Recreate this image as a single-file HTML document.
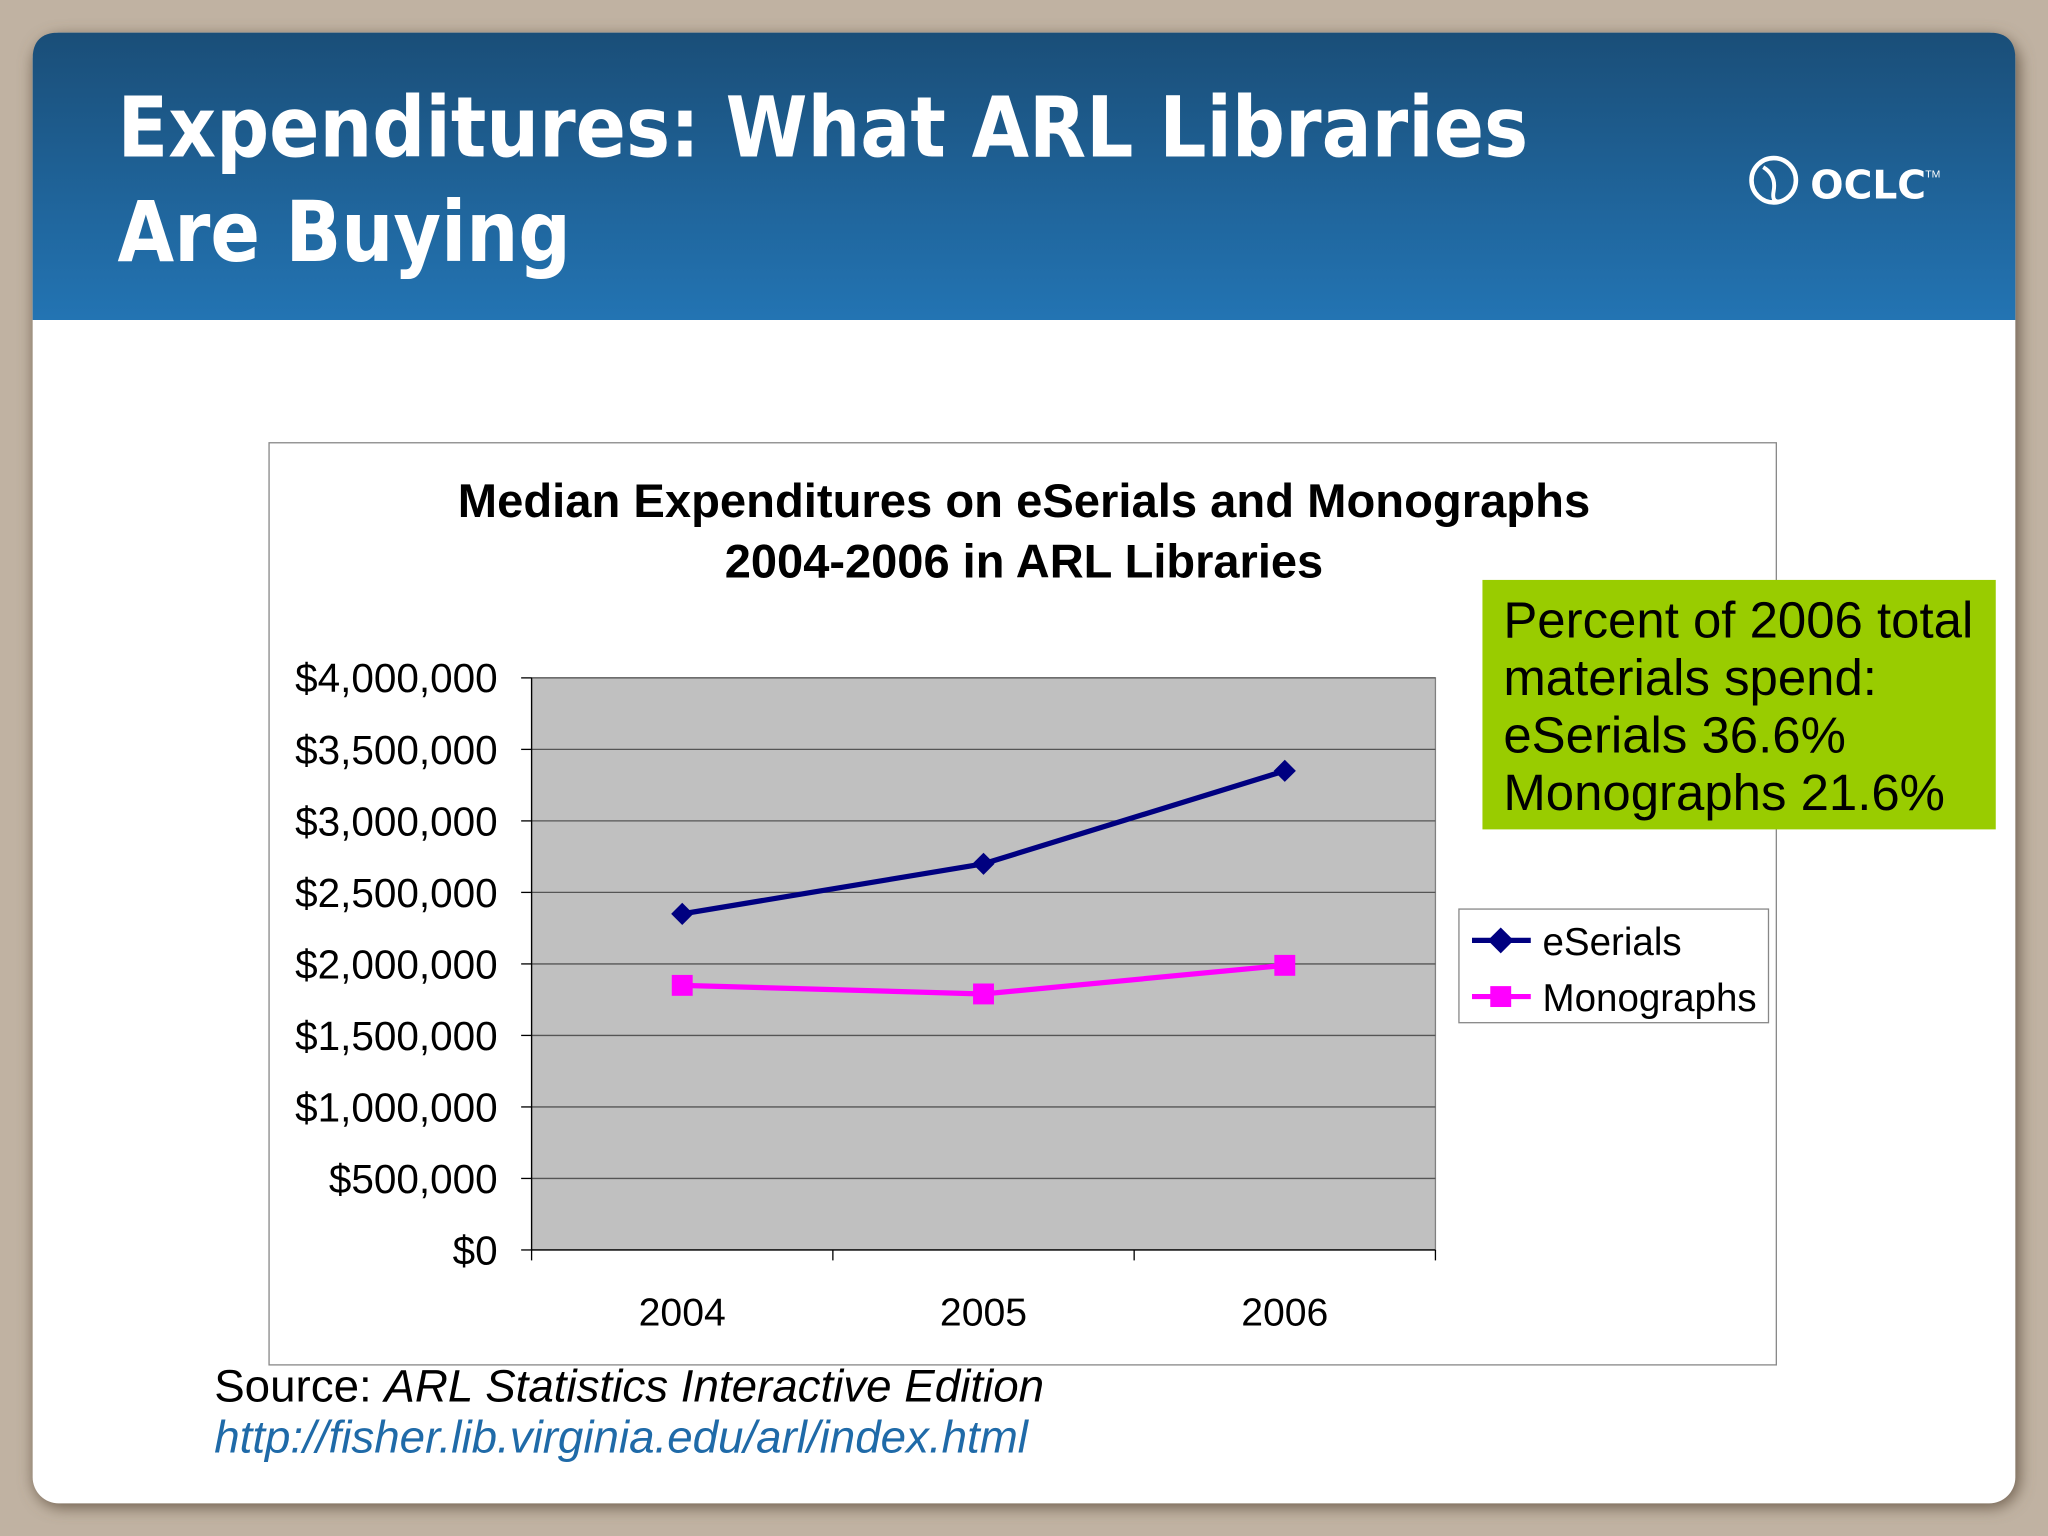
<!DOCTYPE html>
<html><head><meta charset="utf-8"><style>
html,body{margin:0;padding:0;background:#bfb09f;}
svg{display:block}
text{font-family:"Liberation Sans",sans-serif}
</style></head><body>
<svg width="2048" height="1536" viewBox="0 0 1568 1176" xmlns="http://www.w3.org/2000/svg">
<defs>
<linearGradient id="hdr" x1="0" y1="0" x2="0" y2="1"><stop offset="0" stop-color="#1a4e78"/><stop offset="1" stop-color="#2374b3"/></linearGradient>
<filter id="sh" x="-5%" y="-5%" width="110%" height="110%"><feGaussianBlur stdDeviation="6"/></filter>
</defs>
<rect width="1568" height="1176" fill="#c0b2a2"/>
<rect x="26" y="28" width="1520" height="1126" rx="22" fill="#6e5e4e" filter="url(#sh)"/>
<rect x="25" y="25" width="1518" height="1126" rx="20" fill="#ffffff"/>
<path d="M25 245 V45 Q25 25 45 25 H1523 Q1543 25 1543 45 V245 Z" fill="url(#hdr)"/>
<text x="90" y="120" font-weight="bold" font-size="64" fill="#fff" textLength="1080" lengthAdjust="spacingAndGlyphs" style="font-family:'DejaVu Sans',sans-serif">Expenditures: What ARL Libraries</text>
<text x="90" y="200" font-weight="bold" font-size="64" fill="#fff" textLength="347" lengthAdjust="spacingAndGlyphs" style="font-family:'DejaVu Sans',sans-serif">Are Buying</text>
<g>
<circle cx="1358" cy="138" r="17" fill="none" stroke="#fff" stroke-width="3.5"/>
<path d="M1350 128 q10 6 8 18 q-2 10 6 8" fill="none" stroke="#fff" stroke-width="3"/>
<text x="1386" y="152" font-size="30" font-weight="bold" fill="#fff" style="font-family:'DejaVu Sans',sans-serif">OCLC</text>
<text x="1474" y="136" font-size="8" fill="#fff">TM</text>
</g>
<rect x="206" y="339" width="1154" height="706" fill="#fff" stroke="#888" stroke-width="1"/>
<text x="784" y="396" text-anchor="middle" font-weight="bold" font-size="36" textLength="867" lengthAdjust="spacingAndGlyphs" fill="#000">Median Expenditures on eSerials and Monographs</text>
<text x="784" y="442" text-anchor="middle" font-weight="bold" font-size="36" fill="#000">2004-2006 in ARL Libraries</text>
<rect x="407" y="519" width="692" height="438" fill="#c0c0c0" stroke="#808080"/>
<g id="chart"></g>
<g>
<rect x="1117" y="696" width="237" height="87" fill="#fff" stroke="#888"/>
<line x1="1127" y1="720" x2="1172" y2="720" stroke="#000080" stroke-width="4"/>
<rect x="1142" y="713" width="14" height="14" fill="#000080" transform="rotate(45 1149 720)"/>
<text x="1181" y="731" font-size="29.5">eSerials</text>
<line x1="1127" y1="763" x2="1172" y2="763" stroke="#ff00ff" stroke-width="4"/>
<rect x="1141" y="755" width="16" height="16" fill="#ff00ff"/>
<text x="1181" y="774" font-size="29.5">Monographs</text>
</g>
<g>
<rect x="1135" y="444" width="393" height="191" fill="#99cc00"/>
<text x="1151" y="488" font-size="39" fill="#000">Percent of 2006 total</text>
<text x="1151" y="532" font-size="39" fill="#000">materials spend:</text>
<text x="1151" y="576" font-size="39" fill="#000">eSerials 36.6%</text>
<text x="1151" y="620" font-size="39" fill="#000">Monographs 21.6%</text>
</g>
<text x="164" y="1073" font-size="35" fill="#000">Source: <tspan font-style="italic">ARL Statistics Interactive Edition</tspan></text>
<text x="164" y="1112" font-size="35" font-style="italic" fill="#1f6aa8">http://fisher.lib.virginia.edu/arl/index.html</text>
</svg>
<script>
const categories = ["2004","2005","2006"];
const eSerials = [2350000, 2700000, 3350000];
const monographs = [1850000, 1790000, 1990000];
const yTicks = [0,500000,1000000,1500000,2000000,2500000,3000000,3500000,4000000];
const yTickLabels = ["$0","$500,000","$1,000,000","$1,500,000","$2,000,000","$2,500,000","$3,000,000","$3,500,000","$4,000,000"];
const NS="http://www.w3.org/2000/svg";
const g=document.getElementById('chart');
const X0=407,X1=1099,Y0=957,Y1=519,YMAX=4000000;
function xs(i){return X0+(X1-X0)/categories.length*(i+0.5);}
function ys(v){return Y0-(v/YMAX)*(Y0-Y1);}
function mk(t,a){const e=document.createElementNS(NS,t);for(const k in a)e.setAttribute(k,a[k]);g.appendChild(e);return e;}
yTicks.forEach((v,i)=>{
  const y=ys(v);
  if(i>0){const l=mk('line',{x1:X0,x2:X1,y1:y,y2:y,stroke:'#555','stroke-width':1});
  
  }
  const tk=mk('line',{x1:X0-8,x2:X0,y1:y,y2:y,stroke:'#000'});
  
  
  const t=mk('text',{x:381,y:y+11,'text-anchor':'end','font-size':31});
  t.textContent=yTickLabels[i];
  
  
});
mk('line',{x1:X0,x2:X0,y1:Y1,y2:Y0,stroke:'#000'});
mk('line',{x1:X0,x2:X1,y1:Y0,y2:Y0,stroke:'#000'});
for(let i=0;i<=categories.length;i++){const x=X0+(X1-X0)/categories.length*i;mk('line',{x1:x,x2:x,y1:Y0,y2:Y0+8,stroke:'#000'});}
categories.forEach((c,i)=>{const t=mk('text',{x:xs(i),y:1015,'text-anchor':'middle','font-size':30});t.textContent=c;

});
function series(vals,col,shape,name){
  const p=mk('polyline',{points:vals.map((v,i)=>xs(i)+','+ys(v)).join(' '),fill:'none',stroke:col,'stroke-width':4});
  
  
  vals.forEach((v,i)=>{
    const x=xs(i),y=ys(v);let m;
    if(shape==='d'){m=mk('rect',{x:x-6,y:y-6,width:12,height:12,fill:col,transform:`rotate(45 ${x} ${y})`});}
    else{m=mk('rect',{x:x-8,y:y-8,width:16,height:16,fill:col});}
    
    
  });
}
series(monographs,'#ff00ff','s','monographs');
series(eSerials,'#000080','d','eserials');
</script>
</body></html>
